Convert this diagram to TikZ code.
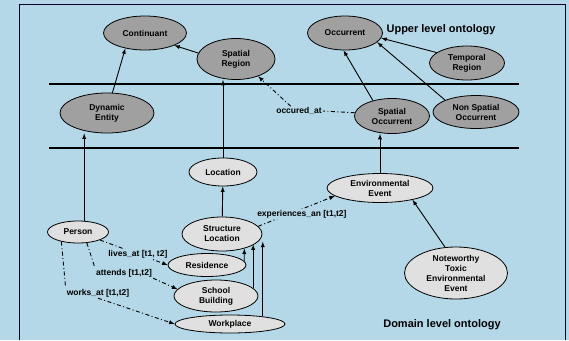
\documentclass[tikz,border=0pt]{standalone}
\usepackage{fontspec}
\setsansfont{Liberation Sans}
\usepackage{tikz}
\usetikzlibrary{arrows,shapes.geometric,positioning}
\definecolor{bgblue}{RGB}{180,216,232}
\definecolor{uppergray}{RGB}{160,160,160}
\definecolor{domaingray}{RGB}{224,224,224}
\tikzstyle{every picture}+=[font=\sffamily]

\begin{document}
\begin{tikzpicture}
	[x=1pt, y=-1pt, font=\sffamily\bfseries\fontsize{8.5}{10}\selectfont, inner sep=0pt,
	upper/.style	= {ellipse,draw,fill=uppergray,line width=0.8pt,align=center},
	lowerlevel/.style	= {ellipse,draw,fill=domaingray,line width=0.8pt,align=center},
	paths/.style	= {->, >=latex, line width=0.9pt},
	rel/.style	= {->, >=latex, line width=0.9pt, dash pattern=on 4pt off 2.5pt on 1pt off 2.5pt},
	lbl/.style	= {fill=bgblue, inner sep=1pt},
	heading/.style	= {font=\sffamily\bfseries\fontsize{11}{13}\selectfont}]

	\useasboundingbox (0, 0) rectangle (569, 340);
	\fill [bgblue] (0, 0) rectangle (569, 340);
	\draw [line width=0.9pt, black!85!blue] (19, 340) -- (19, 4) -- (565, 4) -- (565, 340);
	\draw [line width=2.6pt] (49, 84) -- (519, 84);
	\draw [line width=1.1pt] (49, 148) -- (519, 148);

	% upper level
	\node at (145, 33)	[upper, minimum width=83pt, minimum height=34pt]	(cont)	{Continuant};
	\node at (236, 59)	[upper, minimum width=78pt, minimum height=41pt]	(sr)	{Spatial\\Region};
	\node at (107, 113)	[upper, minimum width=94pt, minimum height=40pt]	(de)	{Dynamic\\Entity};
	\node at (345, 33)	[upper, minimum width=75pt, minimum height=34pt]	(occ)	{Occurrent};
	\node at (467, 63)	[upper, minimum width=75pt, minimum height=34pt]	(tr)	{Temporal\\Region};
	\node at (392, 116)	[upper, minimum width=75pt, minimum height=35pt]	(so)	{Spatial\\Occurrent};
	\node at (476, 112)	[upper, minimum width=86pt, minimum height=33pt]	(nso)	{Non Spatial\\Occurrent};

	% domain level
	\node at (223, 172)	[lowerlevel, minimum width=68pt, minimum height=28pt]	(loc)	{Location};
	\node at (222, 234)	[lowerlevel, minimum width=80pt, minimum height=34pt]	(sl)	{Structure\\Location};
	\node at (78, 232)	[lowerlevel, minimum width=61pt, minimum height=22pt]	(person)	{Person};
	\node at (207, 265)	[lowerlevel, minimum width=78pt, minimum height=23pt]	(res)	{Residence};
	\node at (216, 296)	[lowerlevel, minimum width=84pt, minimum height=32pt]	(school)	{School\\Building};
	\node at (230, 324)	[lowerlevel, minimum width=110pt, minimum height=18pt]	(work)	{Workplace};
	\node at (380, 188)	[lowerlevel, minimum width=106pt, minimum height=29pt]	(ee)	{Environmental\\Event};
	\node at (456, 273)	[lowerlevel, minimum width=103pt, minimum height=52pt]	(ntee)	{Noteworthy\\Toxic\\Environmental\\Event};

	\node at (441, 30)	[heading]	(upperT)	{Upper level ontology};
	\node at (442, 325)	[heading]	(domainT)	{Domain level ontology};

	\node at (299, 111)	[lbl]	(occL)	{occured\_at};
	\node at (124, 273)	[lbl]	(attL)	{attends [t1,t2]};
	\node at (98, 293)	[lbl]	(worksL)	{works\_at [t1,t2]};

	\draw [paths] (de.75) -- (cont.218);
	\draw [paths] (sr.171) -- (cont.-23);
	\draw [paths] (person.61) -- (person.61 |- de.south);
	\draw [paths] (loc) -- (loc |- sr.south);
	\draw [paths] (sl) -- (loc);
	\draw [paths] (res.6) -- (sl.-33);
	\draw [paths] (school.12) -- (school.12 |- sl.-18);
	\draw [paths] (work.13) -- (work.13 |- sl.-12);
	\draw [paths] (ee) -- (ee |- so.south);
	\draw [paths] (so.141) -- (occ.265);
	\draw [paths] (nso.159) -- (occ.-16);
	\draw [paths] (tr.161) -- (occ.-8);
	\draw [paths] (ntee.113) -- (ee.-20);

	\draw [rel] (person.-20) -- node [lbl, pos=0.56] (livesL) {lives\_at [t1, t2]} (res.west);
	\draw [rel] (person.-51) -- (attL.north west) (attL.south east) -- (school.170);
	\draw [rel] (person.210) -- (worksL.north west) (worksL.south) -- (work.west);
	\draw [rel] (so.175) -- (occL.east) (occL.150) -- (sr.-38);
	\draw [rel] (sl.12) -- node [lbl, pos=0.57, yshift=-5pt] (expL) {experiences\_an [t1,t2]} (ee.190);
\end{tikzpicture}
\end{document}
